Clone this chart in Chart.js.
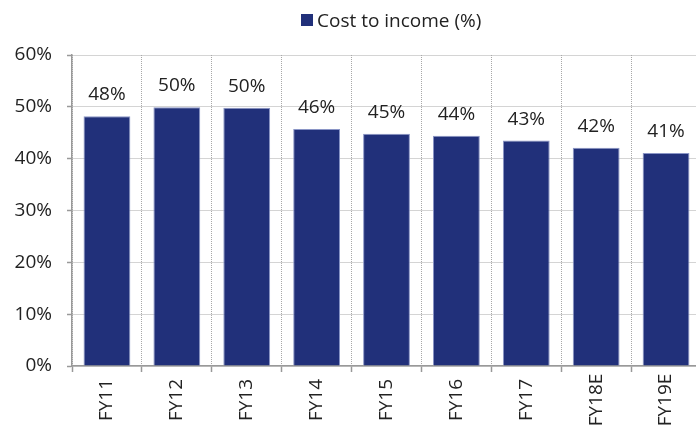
<!DOCTYPE html>
<html>
<head>
<meta charset="utf-8">
<script src="https://cdn.jsdelivr.net/npm/chart.js@4/dist/chart.umd.min.js"></script>
<style>
html,body{margin:0;padding:0;overflow:hidden;background:#fff;width:696px;height:431px;}
canvas{display:block;}
</style>
</head>
<body>
<canvas id="c" width="706" height="431"></canvas>
<script>
const categories = ["FY11","FY12","FY13","FY14","FY15","FY16","FY17","FY18E","FY19E"];
const costToIncome = [48.2, 49.9, 49.8, 45.7, 44.8, 44.4, 43.5, 42.1, 41.1];
const valueLabels = ["48%","50%","50%","46%","45%","44%","43%","42%","41%"];
const seriesName = "Cost to income (%)";
const yTicks = [0,10,20,30,40,50,60];

const FONT = "'Open Sans', 'Noto Sans', sans-serif";
const BAR = "#21307A";

const overlay = {
  id: 'overlay',
  afterDraw(chart) {
    const ctx = chart.ctx;
    const xs = chart.scales.x;
    const meta = chart.getDatasetMeta(0);
    ctx.save();
    ctx.fillStyle = '#222';
    ctx.font = "19px " + FONT;
    ctx.textAlign = 'center';
    ctx.textBaseline = 'alphabetic';
    meta.data.forEach((bar, i) => {
      ctx.fillText(valueLabels[i], bar.x, bar.y - 16);
    });
    categories.forEach((c, i) => {
      const x = xs.getPixelForValue(i);
      ctx.save();
      ctx.translate(x, 400);
      ctx.rotate(-Math.PI / 2);
      ctx.textAlign = 'center';
      ctx.textBaseline = 'middle';
      ctx.fillText(c, 0, 0);
      ctx.restore();
    });
    ctx.fillStyle = BAR;
    ctx.fillRect(301, 14, 12, 12);
    ctx.fillStyle = '#222';
    ctx.textAlign = 'left';
    ctx.textBaseline = 'alphabetic';
    ctx.fillText(seriesName, 317, 27);
    ctx.restore();
  }
};

new Chart(document.getElementById('c'), {
  type: 'bar',
  data: {
    labels: categories,
    datasets: [{
      label: seriesName,
      data: costToIncome,
      backgroundColor: BAR,
      borderColor: '#8a95c6',
      borderWidth: 1,
      barPercentage: 0.67,
      categoryPercentage: 1
    }]
  },
  options: {
    responsive: false,
    animation: false,
    layout: { padding: { left: 0, right: 5, top: 55, bottom: 0 } },
    plugins: { legend: { display: false }, tooltip: { enabled: false } },
    scales: {
      x: {
        grid: { display: true, offset: true, color: '#a8a8a8', lineWidth: 1, drawTicks: true, tickLength: 6, tickColor: '#999', tickWidth: 1.5 },
        border: { display: true, color: '#999', width: 1.5, dash: [1, 1] },
        ticks: { display: false },
        afterFit(s) { s.height = 65; }
      },
      y: {
        min: 0, max: 60,
        afterBuildTicks(s) { s.ticks = yTicks.map(v => ({ value: v })); },
        grid: { color: '#a8a8a8', lineWidth: 1, drawTicks: true, tickLength: 5, tickColor: '#999', tickWidth: 1.5 },
        border: { display: true, color: '#999', width: 1.5, dash: [1, 1] },
        ticks: {
          padding: 15,
          color: '#222',
          font: { family: FONT, size: 19 },
          callback: v => v + '%'
        },
        afterFit(s) { s.width = 72; }
      }
    }
  },
  plugins: [overlay]
});
</script>
</body>
</html>
